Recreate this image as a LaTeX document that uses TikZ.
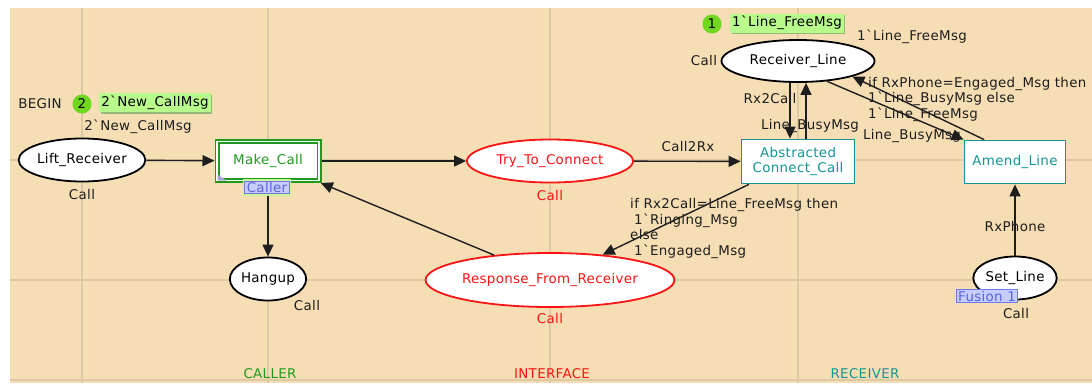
\documentclass[tikz,border=0pt]{standalone}
\usepackage{fontspec}
\setmainfont{DejaVu Sans}[LetterSpace=2.5]
\usetikzlibrary{arrows.meta,shapes.geometric,shadows}
\definecolor{wheatbg}{RGB}{245,221,180}
\definecolor{gridc}{RGB}{222,200,165}
\definecolor{cgreen}{RGB}{30,155,30}
\definecolor{cteal}{RGB}{20,150,150}
\definecolor{cred}{RGB}{250,20,20}
\definecolor{tokfill}{RGB}{110,215,30}
\definecolor{tagfill}{RGB}{185,250,140}
\definecolor{tagshadow}{RGB}{150,185,120}
\definecolor{bluefill}{RGB}{200,205,255}
\definecolor{bluedraw}{RGB}{110,120,235}
\definecolor{bluetext}{RGB}{90,100,225}
\definecolor{glowc}{RGB}{200,245,150}
\definecolor{purpc}{RGB}{165,165,215}
\definecolor{arcc}{RGB}{30,30,30}
\newcommand\fsz{\fontsize{13.4}{15.5}\selectfont}
\begin{document}
\begin{tikzpicture}[x=1pt,y=-1pt,
  every node/.style={font=\fsz, inner sep=0pt, text=arcc},
  place/.style={ellipse, draw=black, line width=1.8pt, fill=white, inner sep=0pt, text=black},
  iplace/.style={place, draw=cred, text=cred},
  trans/.style={rectangle, draw=cteal, line width=1.8pt, fill=white, text=cteal, align=center},
  arc/.style={draw=arcc, line width=1.4pt, -{Triangle[length=12pt,width=11pt]}},
  tok/.style={circle, fill=tokfill, minimum size=19pt, text=black},
  toklbl/.style={fill=tagfill, inner xsep=2pt, minimum height=19pt, text=black,
     drop shadow={shadow xshift=1.5pt, shadow yshift=-1.5pt, fill=tagshadow, opacity=1}},
  bluetag/.style={fill=bluefill, draw=bluedraw, line width=1.2pt, text=bluetext, inner xsep=2pt, inner ysep=1pt},
  lbl/.style={text=arcc}]
\useasboundingbox (0,0) rectangle (1092,383);
\fill[white] (0,0) rectangle (1092,383);
\fill[wheatbg] (10,8) rectangle (1092,383);
\foreach \gx in {82,268,550,798} \draw[gridc, line width=2.5pt] (\gx,8) -- (\gx,383);
\foreach \gy in {160,280,380} \draw[gridc, line width=2.5pt] (10,\gy) -- (1092,\gy);

% places
\node[place, minimum width=121pt, minimum height=43pt] (LR) at (82,160) {Lift\_Receiver};
\node[place, minimum width=65pt, minimum height=43pt] (HG) at (268,279) {Hangup};
\node[iplace, minimum width=166pt, minimum height=43pt] (TTC) at (550,161) {Try\_To\_Connect};
\node[iplace, minimum width=220pt, minimum height=54pt] (RFR) at (550,280) {Response\_From\_Receiver};
\node[place, minimum width=153pt, minimum height=42pt] (RL) at (798,61) {Receiver\_Line};
\node[place, minimum width=66pt, minimum height=43pt] (SL) at (1015,278) {Set\_Line};

% transitions
\node[rectangle, draw=cgreen, double=white, double distance=1.6pt, line width=1.7pt, fill=white,
      minimum width=102pt, minimum height=39pt, text=cgreen, outer sep=2.5pt] (MC) at (268,161) {Make\_Call};
\fill[purpc] ([shift={(3,-2.5)}]MC.south west) -- ++(0,-6) -- ++(9,6) -- cycle;
\node[trans, minimum width=113pt, minimum height=44pt] (ACC) at (798,161.5) {Abstracted\\Connect\_Call};
\node[trans, minimum width=101pt, minimum height=43pt] (AL) at (1015,162) {Amend\_Line};

% tokens
\node[tok] (t2) at (82,104) {2};
\node[toklbl] (m2) at (155,102.5) {2ˋNew\_CallMsg};
\node[tok] (t1) at (712,24) {1};
\node[toklbl] (m1) at (787,23) {1ˋLine\_FreeMsg};

% inscriptions
\node[lbl] (begin) at (40,104) {BEGIN};
\node[lbl] (init2) at (138,127) {2ˋNew\_CallMsg};
\node[lbl] (c1) at (82,195) {Call};
\node[lbl] (c2) at (307,305) {Call};
\node[text=cred] (c3) at (550,196) {Call};
\node[text=cred] (c4) at (550,318) {Call};
\node[lbl] (c5) at (704,61) {Call};
\node[lbl] (c6) at (1016,313) {Call};
\node[lbl] (init1) at (912,37) {1ˋLine\_FreeMsg};
\node[lbl] (call2rx) at (688,147) {Call2Rx};
\node[lbl] (rx2call) at (770,99) {Rx2Call};
\node[lbl] (lb1) at (810,126) {Line\_BusyMsg};
\node[lbl] (lb2) at (912,136) {Line\_BusyMsg};
\node[lbl] (rxphone) at (1015,227) {RxPhone};
\node[lbl, align=left, anchor=north west] (cond1) at (630,198.5)
  {if Rx2Call=Line\_FreeMsg then\\\hspace*{4pt}1ˋRinging\_Msg\\else\\\hspace*{4pt}1ˋEngaged\_Msg};
\node[lbl, align=left, anchor=north west] (cond2) at (868,77)
  {if RxPhone=Engaged\_Msg then\\1ˋLine\_BusyMsg else\\1ˋLine\_FreeMsg};

% page labels
\node[text=cgreen] (pcaller) at (270,374) {CALLER};
\node[text=cred] (pint) at (552,374) {INTERFACE};
\node[text=cteal] (prec) at (865,374) {RECEIVER};

% arcs
\draw[arc] (LR) -- (MC);
\draw[arc] (MC) -- (TTC);
\draw[arc] (MC) -- (HG);
\draw[arc] (RFR.156) -- (MC);
\draw[arc] (TTC) -- (ACC);
\draw[arc] (ACC.205) -- (RFR);
\draw[arc] ([xshift=-8pt]RL.south) -- ([xshift=-8pt]ACC.north);
\draw[arc] ([xshift=8pt]ACC.north) -- ([xshift=8pt]RL.south);
\draw[arc] (RL.-35) -- (AL.north west);
\draw[arc] (AL.144) -- (RL.-16);
\draw[arc] (SL) -- (AL);

% tags drawn over the arcs
\node[bluetag, preaction={draw=glowc, line width=4.5pt}] (caller) at (267,187.5) {Caller};
\node[bluetag] (fus) at (987,296) {Fusion 1};
\end{tikzpicture}
\end{document}
